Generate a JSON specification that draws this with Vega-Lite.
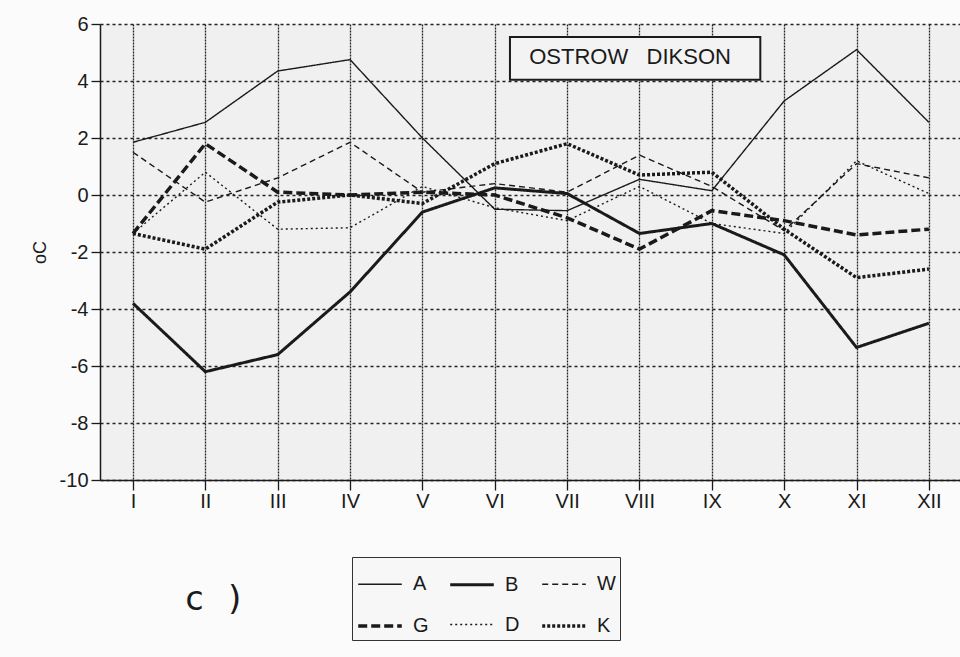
{
  "$schema": "https://vega.github.io/schema/vega-lite/v6.json",
  "autosize": "none",
  "width": 860,
  "height": 456,
  "padding": {"left": 100, "top": 24, "right": 0, "bottom": 177},
  "background": "#fbfbfb",
  "config": {
    "view": {"fill": "#f0f0f0", "stroke": null},
    "font": "Liberation Sans"
  },
  "datasets": {
    "main": [
      {"month": 1, "series": "A", "value": 1.85}, {"month": 2, "series": "A", "value": 2.55}, {"month": 3, "series": "A", "value": 4.35}, {"month": 4, "series": "A", "value": 4.75}, {"month": 5, "series": "A", "value": 2.0}, {"month": 6, "series": "A", "value": -0.5}, {"month": 7, "series": "A", "value": -0.55}, {"month": 8, "series": "A", "value": 0.55}, {"month": 9, "series": "A", "value": 0.15}, {"month": 10, "series": "A", "value": 3.3}, {"month": 11, "series": "A", "value": 5.1}, {"month": 12, "series": "A", "value": 2.55},
      {"month": 1, "series": "B", "value": -3.8}, {"month": 2, "series": "B", "value": -6.2}, {"month": 3, "series": "B", "value": -5.6}, {"month": 4, "series": "B", "value": -3.4}, {"month": 5, "series": "B", "value": -0.6}, {"month": 6, "series": "B", "value": 0.25}, {"month": 7, "series": "B", "value": 0.05}, {"month": 8, "series": "B", "value": -1.35}, {"month": 9, "series": "B", "value": -1.0}, {"month": 10, "series": "B", "value": -2.1}, {"month": 11, "series": "B", "value": -5.35}, {"month": 12, "series": "B", "value": -4.5},
      {"month": 1, "series": "W", "value": 1.5}, {"month": 2, "series": "W", "value": -0.25}, {"month": 3, "series": "W", "value": 0.6}, {"month": 4, "series": "W", "value": 1.85}, {"month": 5, "series": "W", "value": 0.1}, {"month": 6, "series": "W", "value": 0.4}, {"month": 7, "series": "W", "value": 0.1}, {"month": 8, "series": "W", "value": 1.4}, {"month": 9, "series": "W", "value": 0.3}, {"month": 10, "series": "W", "value": -1.25}, {"month": 11, "series": "W", "value": 1.1}, {"month": 12, "series": "W", "value": 0.6},
      {"month": 1, "series": "G", "value": -1.35}, {"month": 2, "series": "G", "value": 1.8}, {"month": 3, "series": "G", "value": 0.1}, {"month": 4, "series": "G", "value": 0.0}, {"month": 5, "series": "G", "value": 0.1}, {"month": 6, "series": "G", "value": 0.0}, {"month": 7, "series": "G", "value": -0.8}, {"month": 8, "series": "G", "value": -1.9}, {"month": 9, "series": "G", "value": -0.55}, {"month": 10, "series": "G", "value": -0.9}, {"month": 11, "series": "G", "value": -1.4}, {"month": 12, "series": "G", "value": -1.2},
      {"month": 1, "series": "D", "value": -1.35}, {"month": 2, "series": "D", "value": 0.8}, {"month": 3, "series": "D", "value": -1.2}, {"month": 4, "series": "D", "value": -1.15}, {"month": 5, "series": "D", "value": 0.3}, {"month": 6, "series": "D", "value": -0.45}, {"month": 7, "series": "D", "value": -0.9}, {"month": 8, "series": "D", "value": 0.3}, {"month": 9, "series": "D", "value": -1.0}, {"month": 10, "series": "D", "value": -1.35}, {"month": 11, "series": "D", "value": 1.2}, {"month": 12, "series": "D", "value": 0.05},
      {"month": 1, "series": "K", "value": -1.35}, {"month": 2, "series": "K", "value": -1.9}, {"month": 3, "series": "K", "value": -0.25}, {"month": 4, "series": "K", "value": 0.0}, {"month": 5, "series": "K", "value": -0.3}, {"month": 6, "series": "K", "value": 1.1}, {"month": 7, "series": "K", "value": 1.8}, {"month": 8, "series": "K", "value": 0.7}, {"month": 9, "series": "K", "value": 0.8}, {"month": 10, "series": "K", "value": -1.2}, {"month": 11, "series": "K", "value": -2.9}, {"month": 12, "series": "K", "value": -2.6}
    ],
    "box": [{"x1": 6.21, "x2": 9.67, "y1": 5.54, "y2": 4.04, "xm": 7.87, "ym": 4.84, "label": "OSTROW\u00a0\u00a0\u00a0DIKSON"}],
    "tag": [{"x": 2.13, "y": -14.2, "label": "c )"}]
  },
  "layer": [
    {
      "data": {"name": "main"},
      "mark": {"type": "line", "color": "#1a1a1a", "strokeJoin": "miter", "strokeCap": "butt"},
      "encoding": {
        "x": {
          "field": "month", "type": "quantitative",
          "scale": {"domain": [0.544, 12.43], "nice": false, "zero": false},
          "axis": {
            "values": [1, 2, 3, 4, 5, 6, 7, 8, 9, 10, 11, 12],
            "labelExpr": "['I','II','III','IV','V','VI','VII','VIII','IX','X','XI','XII'][datum.value-1]",
            "title": null,
            "domainColor": "#1a1a1a", "domainWidth": 1.5,
            "tickColor": "#1a1a1a", "tickSize": 10, "tickWidth": 1.3,
            "labelFontSize": 20, "labelColor": "#1a1a1a", "labelPadding": 1,
            "grid": true, "gridColor": "#222", "gridDash": [2, 1], "gridWidth": 1.3, "gridOpacity": 1
          }
        },
        "y": {
          "field": "value", "type": "quantitative",
          "scale": {"domain": [-10, 6], "nice": false},
          "axis": {
            "values": [-10, -8, -6, -4, -2, 0, 2, 4, 6],
            "labelExpr": "'' + datum.value",
            "title": "oC", "titleFontSize": 18, "titleFontWeight": "normal", "titleColor": "#1a1a1a", "titlePadding": 10,
            "domainColor": "#1a1a1a", "domainWidth": 1.5,
            "tickColor": "#1a1a1a", "tickSize": 9, "tickWidth": 1.3,
            "labelFontSize": 20, "labelColor": "#1a1a1a", "labelPadding": 3,
            "grid": true, "gridColor": "#222", "gridDash": [3, 3], "gridWidth": 1.4, "gridOpacity": 1
          }
        },
        "strokeDash": {
          "field": "series", "type": "nominal",
          "scale": {"domain": ["A", "B", "W", "G", "D", "K"], "range": [[1, 0], [1, 0], [6, 4], [9, 4], [2, 3], [3, 2]]},
          "legend": {
            "orient": "none", "legendX": 252, "legendY": 533, "columns": 3, "direction": "horizontal", "title": null,
            "strokeColor": "#333", "fillColor": "#f7f7f7", "padding": 4,
            "symbolType": "stroke", "symbolSize": 1900, "symbolStrokeColor": "#1a1a1a",
            "labelFontSize": 20, "labelColor": "#1a1a1a", "labelOffset": 9,
            "rowPadding": 7, "columnPadding": 15
          }
        },
        "strokeWidth": {
          "field": "series", "type": "nominal",
          "scale": {"type": "ordinal", "domain": ["A", "B", "W", "G", "D", "K"], "range": [1.4, 3, 1.4, 3.5, 1.4, 3.5]},
          "legend": {
            "orient": "none", "legendX": 252, "legendY": 533, "columns": 3, "direction": "horizontal", "title": null,
            "strokeColor": "#333", "fillColor": "#f7f7f7", "padding": 4,
            "symbolType": "stroke", "symbolSize": 1900, "symbolStrokeColor": "#1a1a1a",
            "labelFontSize": 20, "labelColor": "#1a1a1a", "labelOffset": 9,
            "rowPadding": 7, "columnPadding": 15
          }
        }
      }
    },
    {
      "mark": {"type": "rule", "color": "#1a1a1a", "strokeWidth": 1.5},
      "encoding": {"y": {"datum": 0}}
    },
    {
      "mark": {"type": "rule", "color": "#1a1a1a", "strokeWidth": 1.5},
      "encoding": {"y": {"datum": 6}}
    },
    {
      "data": {"name": "box"},
      "mark": {"type": "rect", "fill": "#f3f3f3", "stroke": "#1a1a1a", "strokeWidth": 2},
      "encoding": {
        "x": {"field": "x1", "type": "quantitative"},
        "x2": {"field": "x2"},
        "y": {"field": "y1", "type": "quantitative"},
        "y2": {"field": "y2"}
      }
    },
    {
      "data": {"name": "box"},
      "mark": {"type": "text", "fontSize": 22, "color": "#1a1a1a", "align": "center", "baseline": "middle"},
      "encoding": {
        "x": {"field": "xm", "type": "quantitative"},
        "y": {"field": "ym", "type": "quantitative"},
        "text": {"field": "label"}
      }
    },
    {
      "data": {"name": "tag"},
      "mark": {"type": "text", "fontSize": 34, "font": "DejaVu Sans Mono", "color": "#1a1a1a", "align": "center", "baseline": "middle"},
      "encoding": {
        "x": {"field": "x", "type": "quantitative"},
        "y": {"field": "y", "type": "quantitative"},
        "text": {"field": "label"}
      }
    }
  ]
}
